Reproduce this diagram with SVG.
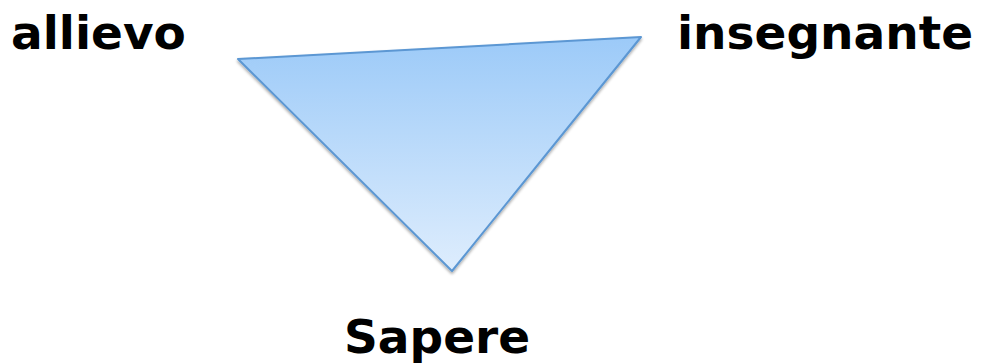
<svg xmlns="http://www.w3.org/2000/svg" width="981" height="364" viewBox="0 0 981 364">
<defs>
<linearGradient id="g" x1="0" y1="0" x2="0" y2="1">
<stop offset="0" stop-color="#9ccaf8"/>
<stop offset="1" stop-color="#deedfd"/>
</linearGradient>
<filter id="sh" x="-10%" y="-10%" width="120%" height="130%">
<feGaussianBlur in="SourceAlpha" stdDeviation="1.5"/>
<feOffset dx="0" dy="2" result="b"/>
<feComponentTransfer><feFuncA type="linear" slope="0.35"/></feComponentTransfer>
<feMerge><feMergeNode/><feMergeNode in="SourceGraphic"/></feMerge>
</filter>
<style>
.t{font-family:"DejaVu Sans",Verdana,sans-serif;font-weight:bold;font-size:47px;fill:#000}
</style>
</defs>
<rect width="981" height="364" fill="#fff"/>
<g id="triangle">
<polygon points="238,59 641,37 452,271" fill="url(#g)" stroke="#5b97d3" stroke-width="2" stroke-linejoin="round" filter="url(#sh)"/>
</g>
<g id="allievo"><text class="t" x="11" y="49">allievo</text></g>
<g id="insegnante"><text class="t" x="677" y="49">insegnante</text></g>
<g id="sapere"><text class="t" x="344" y="353">Sapere</text></g>
<g id="connectors"/>
</svg>
